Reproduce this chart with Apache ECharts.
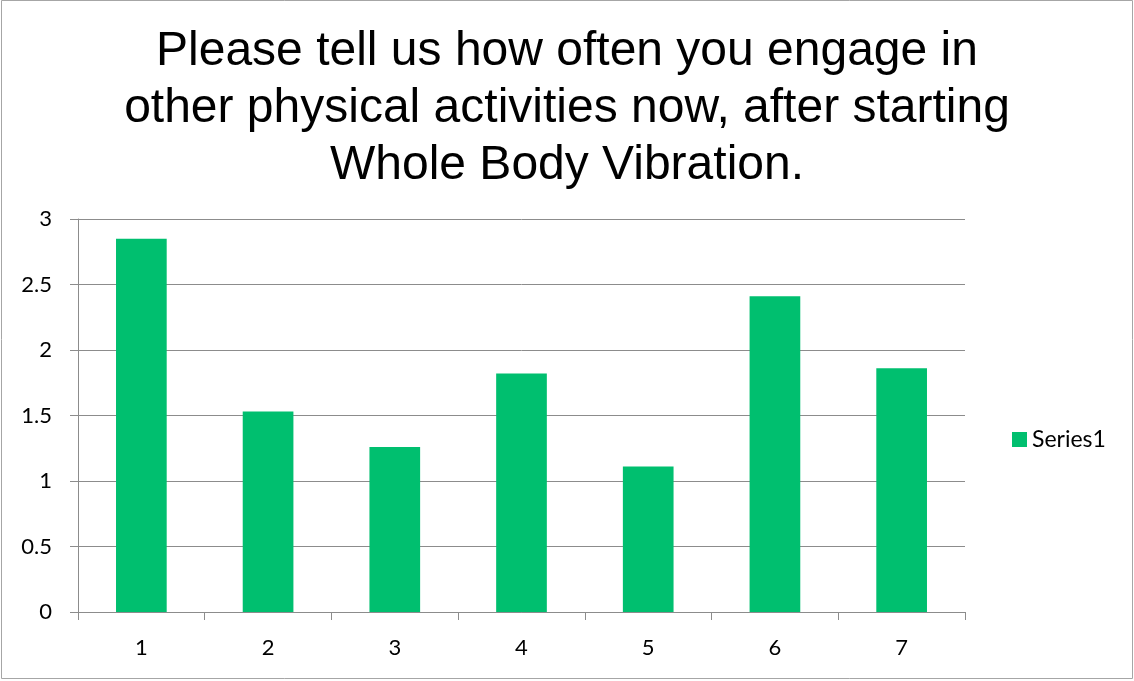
<!DOCTYPE html>
<html>
<head>
<meta charset="utf-8">
<script src="https://cdn.jsdelivr.net/npm/echarts@6/dist/echarts.min.js"></script>
<style>
html,body{margin:0;padding:0;background:#fff;}
#chart{width:1134px;height:681px;}
</style>
</head>
<body>
<div id="chart"></div>
<script>
const titleText = "Please tell us how often you engage in\nother physical activities now, after starting\nWhole Body Vibration.";
const categories = ["1", "2", "3", "4", "5", "6", "7"];
const seriesName = "Series1";
const values = [2.85, 1.53, 1.26, 1.82, 1.11, 2.41, 1.86];

const chart = echarts.init(document.getElementById('chart'));
chart.setOption({
  backgroundColor: '#ffffff',
  animation: false,
  title: {
    text: titleText,
    left: 'center',
    top: 18,
    textStyle: {
      fontFamily: 'Liberation Sans',
      fontSize: 48,
      fontWeight: 'normal',
      color: '#000000',
      lineHeight: 57
    }
  },
  legend: {
    data: [seriesName],
    orient: 'vertical',
    left: 1007,
    top: 423,
    itemWidth: 15,
    itemHeight: 15,
    itemGap: 8,
    icon: 'rect',
    textStyle: { fontFamily: 'Lato', fontSize: 23, color: '#000' }
  },
  grid: { left: 78, right: 169, top: 219, bottom: 69, containLabel: false },
  xAxis: {
    type: 'category',
    data: categories,
    axisLine: { lineStyle: { color: '#8c8c8c', width: 1 } },
    axisTick: { show: true, length: 8, lineStyle: { color: '#8c8c8c' } },
    axisLabel: { margin: 25, fontFamily: 'Lato', fontSize: 22, color: '#000' }
  },
  yAxis: {
    type: 'value',
    min: 0, max: 3, interval: 0.5,
    axisLine: { show: true, lineStyle: { color: '#8c8c8c', width: 1 } },
    axisTick: { show: true, length: 8, lineStyle: { color: '#8c8c8c' } },
    axisLabel: { margin: 26, fontFamily: 'Lato', fontSize: 22, color: '#000' },
    splitLine: { lineStyle: { color: '#8c8c8c', width: 1 } }
  },
  series: [{
    name: seriesName,
    type: 'bar',
    data: values,
    barWidth: '40%',
    itemStyle: { color: '#00bf6f' }
  }],
  graphic: [{
    type: 'rect',
    shape: { x: 1.5, y: 0.5, width: 1131, height: 678 },
    style: { fill: 'none', stroke: '#a6a6a6', lineWidth: 1 },
    silent: true
  }]
});
</script>
</body>
</html>
